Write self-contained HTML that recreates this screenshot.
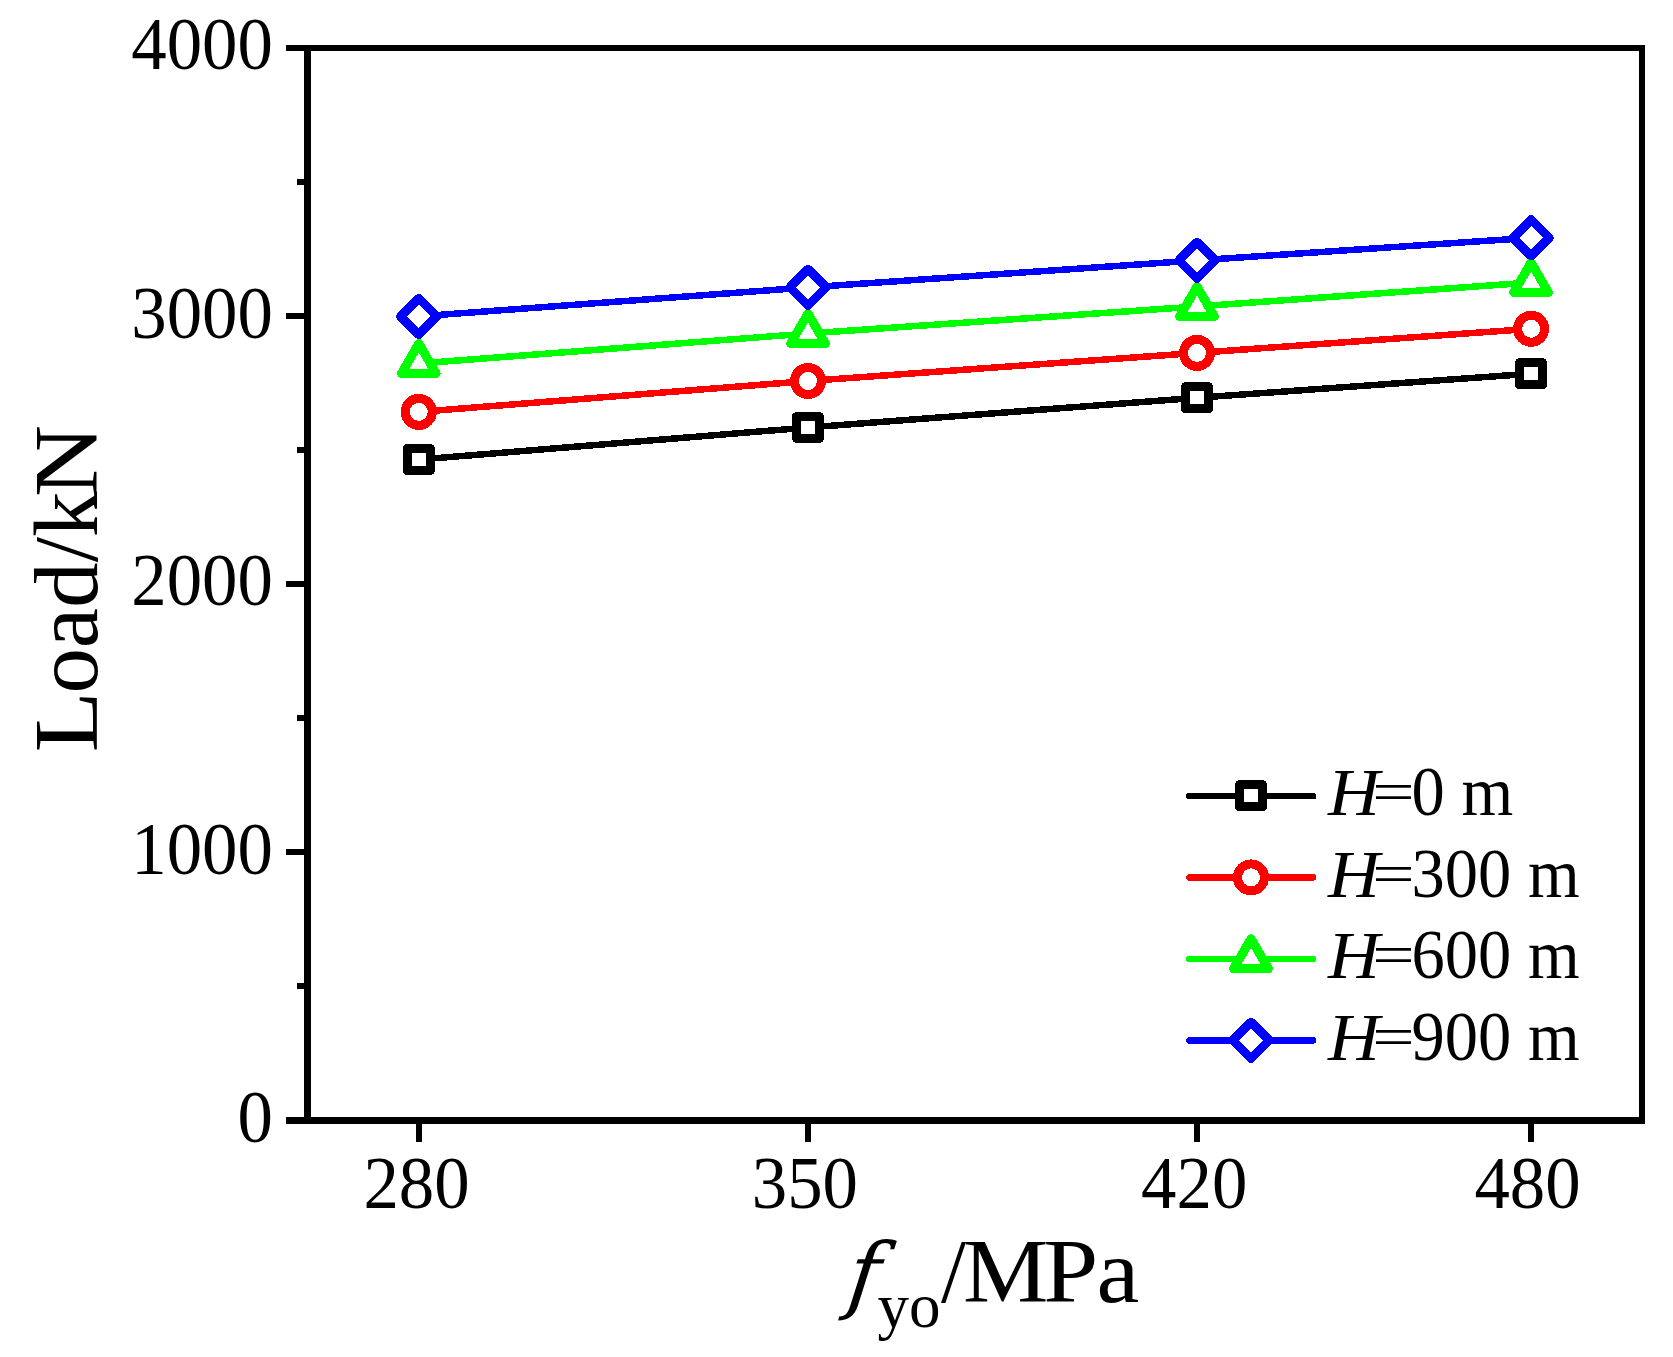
<!DOCTYPE html>
<html lang="en"><head><meta charset="utf-8"><title>Load - fyo chart</title>
<style>
html,body{margin:0;padding:0;background:#fff;}
body{position:relative;width:1673px;height:1357px;overflow:hidden;font-family:"Liberation Serif","Times New Roman",serif;color:#000;}
svg{position:absolute;left:0;top:0;display:block;}
.lab{position:absolute;left:0;top:0;width:0;height:100px;line-height:0;white-space:nowrap;font-size:0;}
.p{display:inline-block;width:0;height:100px;line-height:0;white-space:pre;vertical-align:baseline;transform-origin:0 100%;}
.p::before{content:"";display:inline-block;width:0;height:100px;vertical-align:baseline;}
.it{font-style:italic;}
.dj{font-family:"DejaVu Serif","Liberation Serif",serif;font-style:italic;}
</style></head><body>
<svg width="1673" height="1357" viewBox="0 0 1673 1357">
<rect x="0" y="0" width="1673" height="1357" fill="#fff"/>
<g fill="#000" shape-rendering="crispEdges">
<rect x="304" y="45" width="7" height="1079"/>
<rect x="1639" y="45" width="6" height="1079"/>
<rect x="304" y="45" width="1341" height="6"/>
<rect x="304" y="1117" width="1341" height="7"/>
<rect x="286" y="45" width="18" height="6"/>
<rect x="297" y="179" width="7" height="6"/>
<rect x="286" y="313" width="18" height="6"/>
<rect x="297" y="447" width="7" height="6"/>
<rect x="286" y="581" width="18" height="6"/>
<rect x="297" y="715" width="7" height="6"/>
<rect x="286" y="849" width="18" height="6"/>
<rect x="297" y="983" width="7" height="6"/>
<rect x="286" y="1117" width="18" height="7"/>
<rect x="416" y="1124" width="6" height="18"/>
<rect x="805" y="1124" width="6" height="18"/>
<rect x="1194" y="1124" width="6" height="18"/>
<rect x="1528" y="1124" width="6" height="18"/>
</g>
<g shape-rendering="crispEdges">
<polyline points="418.80,459.60 808.00,427.50 1197.00,397.80 1531.10,373.70" fill="none" stroke="#000000" stroke-width="6.5" stroke-linejoin="round"/>
<polyline points="418.80,411.90 808.00,381.00 1197.00,352.90 1531.10,328.80" fill="none" stroke="#ff0000" stroke-width="6.5" stroke-linejoin="round"/>
<polyline points="418.80,363.50 808.00,333.50 1197.00,306.50 1531.10,282.50" fill="none" stroke="#00ff00" stroke-width="6.5" stroke-linejoin="round"/>
<polyline points="418.80,316.40 808.00,287.40 1197.00,260.40 1531.10,237.80" fill="none" stroke="#0000ff" stroke-width="6.5" stroke-linejoin="round"/>
<rect x="407.30" y="448.60" width="23.00" height="22.00" fill="#fff" stroke="#000000" stroke-width="9.0" stroke-linejoin="round"/>
<rect x="796.50" y="416.50" width="23.00" height="22.00" fill="#fff" stroke="#000000" stroke-width="9.0" stroke-linejoin="round"/>
<rect x="1185.50" y="386.80" width="23.00" height="22.00" fill="#fff" stroke="#000000" stroke-width="9.0" stroke-linejoin="round"/>
<rect x="1519.60" y="362.70" width="23.00" height="22.00" fill="#fff" stroke="#000000" stroke-width="9.0" stroke-linejoin="round"/>
<circle cx="418.80" cy="411.90" r="13.5" fill="#fff" stroke="#ff0000" stroke-width="9.0"/>
<circle cx="808.00" cy="381.00" r="13.5" fill="#fff" stroke="#ff0000" stroke-width="9.0"/>
<circle cx="1197.00" cy="352.90" r="13.5" fill="#fff" stroke="#ff0000" stroke-width="9.0"/>
<circle cx="1531.10" cy="328.80" r="13.5" fill="#fff" stroke="#ff0000" stroke-width="9.0"/>
<path d="M401.50 373.48 L436.10 373.48 L418.80 343.55 Z" fill="#fff" stroke="#00ff00" stroke-width="9.0" stroke-linejoin="round"/>
<path d="M790.70 343.48 L825.30 343.48 L808.00 313.55 Z" fill="#fff" stroke="#00ff00" stroke-width="9.0" stroke-linejoin="round"/>
<path d="M1179.70 316.48 L1214.30 316.48 L1197.00 286.55 Z" fill="#fff" stroke="#00ff00" stroke-width="9.0" stroke-linejoin="round"/>
<path d="M1513.80 292.48 L1548.40 292.48 L1531.10 262.55 Z" fill="#fff" stroke="#00ff00" stroke-width="9.0" stroke-linejoin="round"/>
<path d="M400.70 316.40 L418.80 298.30 L436.90 316.40 L418.80 334.50 Z" fill="#fff" stroke="#0000ff" stroke-width="9.0" stroke-linejoin="round"/>
<path d="M789.90 287.40 L808.00 269.30 L826.10 287.40 L808.00 305.50 Z" fill="#fff" stroke="#0000ff" stroke-width="9.0" stroke-linejoin="round"/>
<path d="M1178.90 260.40 L1197.00 242.30 L1215.10 260.40 L1197.00 278.50 Z" fill="#fff" stroke="#0000ff" stroke-width="9.0" stroke-linejoin="round"/>
<path d="M1513.00 237.80 L1531.10 219.70 L1549.20 237.80 L1531.10 255.90 Z" fill="#fff" stroke="#0000ff" stroke-width="9.0" stroke-linejoin="round"/>
<line x1="1189.3" y1="796.2" x2="1313" y2="796.2" stroke="#000000" stroke-width="6.5" stroke-linecap="round"/>
<rect x="1239.50" y="784.80" width="23.00" height="22.00" fill="#fff" stroke="#000000" stroke-width="9.0" stroke-linejoin="round"/>
<line x1="1189.3" y1="877.4" x2="1313" y2="877.4" stroke="#ff0000" stroke-width="6.5" stroke-linecap="round"/>
<circle cx="1251.00" cy="877.40" r="13.5" fill="#fff" stroke="#ff0000" stroke-width="9.0"/>
<line x1="1189.3" y1="959.0" x2="1313" y2="959.0" stroke="#00ff00" stroke-width="6.5" stroke-linecap="round"/>
<path d="M1233.70 968.68 L1268.30 968.68 L1251.00 938.75 Z" fill="#fff" stroke="#00ff00" stroke-width="9.0" stroke-linejoin="round"/>
<line x1="1189.3" y1="1040.4" x2="1313" y2="1040.4" stroke="#0000ff" stroke-width="6.5" stroke-linecap="round"/>
<path d="M1232.90 1040.40 L1251.00 1022.30 L1269.10 1040.40 L1251.00 1058.50 Z" fill="#fff" stroke="#0000ff" stroke-width="9.0" stroke-linejoin="round"/>
</g>
</svg>
<div class="lab"><span class="p" style="font-size:70.8px;transform:translate(131.30px,-31.00px) scale(1.0,1.045);">4000</span></div>
<div class="lab"><span class="p" style="font-size:70.8px;transform:translate(131.30px,238.00px) scale(1.0,1.045);">3000</span></div>
<div class="lab"><span class="p" style="font-size:70.8px;transform:translate(131.30px,504.80px) scale(1.0,1.045);">2000</span></div>
<div class="lab"><span class="p" style="font-size:70.8px;transform:translate(131.30px,774.00px) scale(1.0,1.045);">1000</span></div>
<div class="lab"><span class="p" style="font-size:70.8px;transform:translate(237.50px,1041.80px) scale(1.0,1.045);">0</span></div>
<div class="lab"><span class="p" style="font-size:70.8px;transform:translate(363.40px,1108.40px) scale(1.0,1.045);">280</span></div>
<div class="lab"><span class="p" style="font-size:70.8px;transform:translate(751.80px,1108.40px) scale(1.0,1.045);">350</span></div>
<div class="lab"><span class="p" style="font-size:70.8px;transform:translate(1141.10px,1108.40px) scale(1.0,1.045);">420</span></div>
<div class="lab"><span class="p" style="font-size:70.8px;transform:translate(1474.40px,1108.40px) scale(1.0,1.045);">480</span></div>
<div class="lab"><span class="p it" style="font-size:66px;transform:translate(1327.90px,715.20px) scale(1.085,1.04);">H</span><span class="p" style="font-size:66px;transform:translate(1372.20px,710.90px) scale(1.14,0.87);">=</span><span class="p" style="font-size:66.5px;transform:translate(1411.60px,715.20px) scale(1.0,1.04);">0 m</span></div>
<div class="lab"><span class="p it" style="font-size:66px;transform:translate(1327.90px,797.20px) scale(1.085,1.04);">H</span><span class="p" style="font-size:66px;transform:translate(1372.20px,792.90px) scale(1.14,0.87);">=</span><span class="p" style="font-size:66.5px;transform:translate(1411.60px,797.20px) scale(1.0,1.04);">300 m</span></div>
<div class="lab"><span class="p it" style="font-size:66px;transform:translate(1327.90px,878.40px) scale(1.085,1.04);">H</span><span class="p" style="font-size:66px;transform:translate(1372.20px,874.10px) scale(1.14,0.87);">=</span><span class="p" style="font-size:66.5px;transform:translate(1411.60px,878.40px) scale(1.0,1.04);">600 m</span></div>
<div class="lab"><span class="p it" style="font-size:66px;transform:translate(1327.90px,960.30px) scale(1.085,1.04);">H</span><span class="p" style="font-size:66px;transform:translate(1372.20px,956.00px) scale(1.14,0.87);">=</span><span class="p" style="font-size:66.5px;transform:translate(1411.60px,960.30px) scale(1.0,1.04);">900 m</span></div>
<div class="lab"><span class="p dj" style="font-size:84.4px;transform:translate(845.60px,1202.60px) skewX(-7deg);">f</span><span class="p" style="font-size:63px;transform:translate(877.40px,1227.00px);">yo</span><span class="p" style="font-size:90px;transform:translate(940.90px,1201.50px) scale(1.0,1.02);">/</span><span class="p" style="font-size:90px;transform:translate(963.10px,1201.80px) scale(1.066,1.0);">M</span><span class="p" style="font-size:90px;transform:translate(1043.30px,1201.80px) scale(1.1,1.0);">P</span><span class="p" style="font-size:90px;transform:translate(1096.60px,1201.80px) scale(1.07,1.0);">a</span></div>
<div class="lab"><span class="p" style="font-size:90px;transform:translate(96.90px,652.20px) rotate(-90deg) scale(1.11,1.015);">L</span><span class="p" style="font-size:90px;transform:translate(96.90px,593.60px) rotate(-90deg) scale(1.01,1.015);">oad/k</span><span class="p" style="font-size:90px;transform:translate(96.90px,396.90px) rotate(-90deg) scale(1.11,1.015);">N</span></div>
</body></html>
